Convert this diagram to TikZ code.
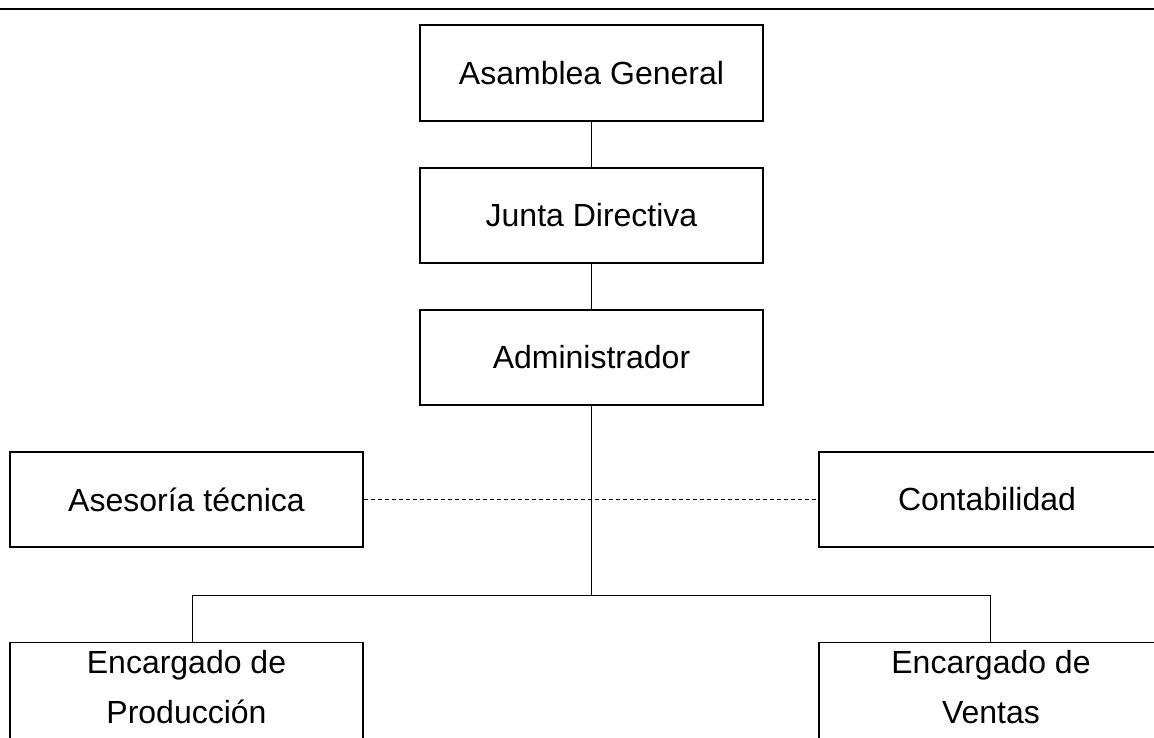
\documentclass[tikz,border=0pt]{standalone}
\usepackage{fontspec}
\setmainfont{Liberation Sans}
\begin{document}
\begin{tikzpicture}[x=1pt,y=-1pt,
  box/.style={draw, line width=1.2pt, inner sep=0pt, font=\fontsize{32}{50}\selectfont},
  txt/.style={inner sep=0pt, align=center, font=\fontsize{32}{50}\selectfont},
  conn/.style={line width=1pt},
  trunk/.style={line width=1.8pt},
  dot/.style={line width=1pt, dash pattern=on 4pt off 3pt}]
\useasboundingbox (0,0) rectangle (1154,738);
\clip (0,0) rectangle (1154,738);
\fill[white] (0,0) rectangle (1154,738);
% top rule (title cut off above)
\coordinate (rl) at (0,9);
\coordinate (rr) at (1154,9);
\draw[line width=1.5pt] (rl) -- (rr);
% boxes
\node[box, minimum width=343pt, minimum height=96pt] (ag) at (591.5,73) {Asamblea General};
\node[box, minimum width=343pt, minimum height=95pt] (jd) at (591.5,215.5) {Junta Directiva};
\node[box, minimum width=343pt, minimum height=95pt] (ad) at (591.5,357.5) {Administrador};
\node[box, minimum width=353pt, minimum height=95pt] (as) at (186.5,499.5) {Asesoría técnica};
\node[box, minimum width=336pt, minimum height=95pt] (co) at (987,499.5) {Contabilidad};
\node[box, anchor=north, minimum width=353pt, minimum height=140pt] (prodbox) at (186.5,642) {};
\node[box, anchor=north, minimum width=344pt, minimum height=140pt] (ventbox) at (991,642) {};
\node[txt] (prod) at ([yshift=-45pt]prodbox.north) {Encargado de\\Producción};
\node[txt] (vent) at ([yshift=-45pt]ventbox.north) {Encargado de\\Ventas};
% connectors
\draw[conn] (ag) -- (jd);
\draw[conn] (jd) -- (ad);
\coordinate (j) at (591.5,595);
\draw[trunk] (ad.south) -- (j);
\draw[conn] (j) -| ([xshift=5.5pt]prodbox.north);
\draw[conn] (j) -| ([xshift=-1pt]ventbox.north);
\draw[dot] (as.east) -- (co.west);
\end{tikzpicture}
\end{document}
